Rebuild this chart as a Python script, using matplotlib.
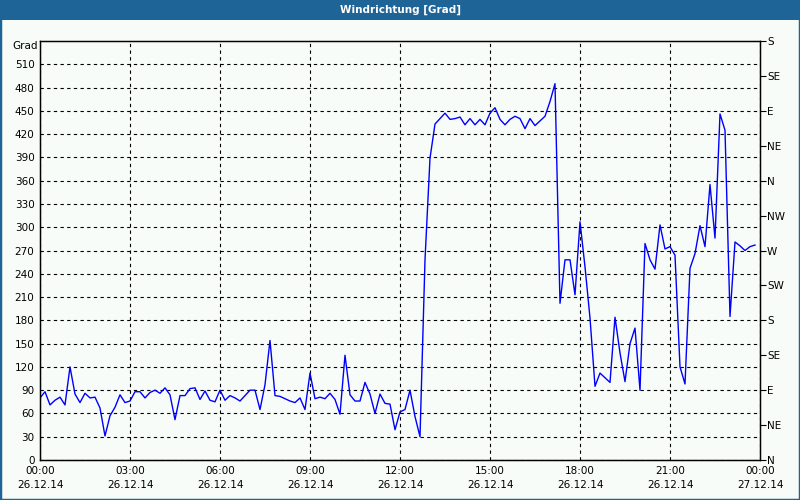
import numpy as np
import pandas as pd
import matplotlib
matplotlib.use("Agg")
import matplotlib.pyplot as plt
import matplotlib.dates as mdates
from matplotlib.patches import Rectangle

# Wind direction [deg], 10-minute values, 26.12.14 00:00 - 23:50
direction = [
    80, 88, 71, 77, 81, 71, 120, 85, 74, 86, 80, 81,
    67, 31, 57, 68, 84, 74, 76, 88, 88, 80, 87, 90,
    86, 93, 84, 52, 83, 83, 92, 93, 78, 89, 77, 75,
    90, 77, 83, 80, 76, 83, 90, 90, 65, 97, 154, 83,
    82, 79, 76, 74, 80, 65, 112, 79, 81, 79, 86, 78,
    59, 135, 84, 76, 76, 100, 85, 60, 85, 73, 72, 39,
    62, 65, 90, 56, 30, 258, 389, 433, 440, 447, 439, 440,
    442, 432, 440, 432, 439, 432, 447, 454, 439, 432, 439, 443,
    440, 427, 440, 431, 437, 443, 462, 485, 202, 258, 258, 213,
    307, 249, 183, 95, 112, 106, 100, 184, 138, 101, 150, 170,
    90, 279, 258, 246, 303, 272, 275, 264, 120, 98, 247, 266,
    302, 275, 355, 286, 446, 425, 185, 281, 276, 270, 275, 277,
]
times = pd.date_range("2014-12-26 00:00", periods=len(direction), freq="10min")

left_ticks = list(range(0, 540, 30))
compass_ticks = list(range(0, 541, 45))
compass_labels = ["N", "NE", "E", "SE", "S", "SW", "W", "NW",
                  "N", "NE", "E", "SE", "S"]

plt.rcParams["font.family"] = "DejaVu Sans"
plt.rcParams["font.size"] = 7.5

bg = "#f8fcf8"
bar = "#1f6496"

fig = plt.figure(figsize=(8, 5), dpi=100, facecolor=bg)

# title bar and outer border
fig.patches.append(Rectangle((0, 1 - 20 / 500), 1, 20 / 500, transform=fig.transFigure,
                             facecolor=bar, edgecolor="none", zorder=0))
fig.patches.append(Rectangle((0, 0), 1, 1, transform=fig.transFigure,
                             facecolor="none", edgecolor=bar, linewidth=2.5, zorder=5))
fig.text(0.5, 1 - 10 / 500, "Windrichtung [Grad]", color="white", ha="center",
         va="center", fontsize=7.5, fontweight="bold")

ax = fig.add_axes([40 / 800, 1 - 460 / 500, 720 / 800, 419 / 500])
ax.set_facecolor(bg)
ax.plot(times, direction, color="#0000ff", linewidth=1)

ax.set_ylim(0, 540)
ax.set_xlim(pd.Timestamp("2014-12-26 00:00"), pd.Timestamp("2014-12-27 00:00"))

ax.set_yticks(left_ticks)
ax.xaxis.set_major_locator(mdates.HourLocator(byhour=range(0, 24, 3)))
ax.xaxis.set_major_formatter(mdates.DateFormatter("%H:%M\n%d.%m.%y"))
ax.tick_params(axis="y", length=0, pad=4)
ax.tick_params(axis="x", length=0, pad=4)
for lbl in ax.get_xticklabels():
    lbl.set_linespacing(1.6)

ax.grid(True, color="black", linestyle=(0, (3, 3)), linewidth=0.8)
for s in ax.spines.values():
    s.set_linewidth(1)
    s.set_color("black")

ax2 = ax.twinx()
ax2.set_ylim(0, 540)
ax2.set_yticks(compass_ticks)
ax2.set_yticklabels(compass_labels)
ax2.tick_params(axis="y", length=4, pad=1)

fig.text(38 / 800, 1 - 46 / 500, "Grad", ha="right", va="center", fontsize=7.5)

fig.savefig("out.png", dpi=100, facecolor=bg)
